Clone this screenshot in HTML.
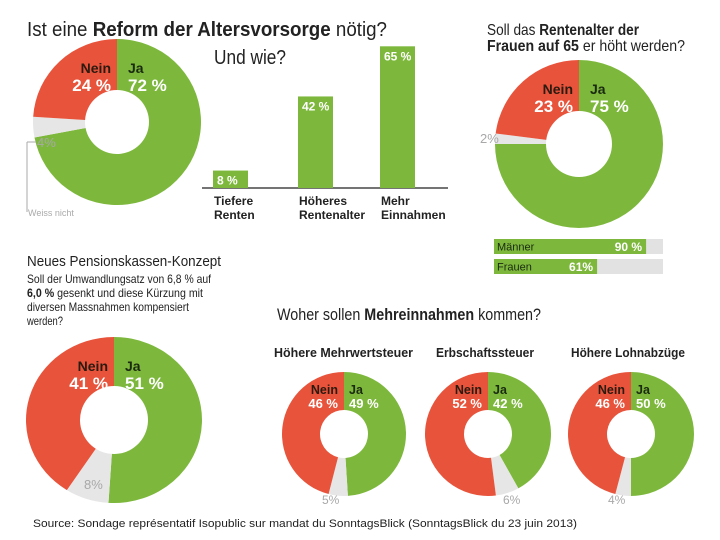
<!DOCTYPE html>
<html><head><meta charset="utf-8">
<style>
html,body{margin:0;padding:0;background:#fff;}
svg{display:block;font-family:"Liberation Sans Narrow","Liberation Sans",sans-serif;}
</style></head>
<body>
<svg id="c" width="720" height="540" viewBox="0 0 720 540" xmlns="http://www.w3.org/2000/svg">
<text x="27" y="36" font-size="20" fill="#222" textLength="360" lengthAdjust="spacingAndGlyphs">Ist eine <tspan font-weight="bold">Reform der Altersvorsorge</tspan> nötig?</text>
<text x="214" y="64" font-size="20" fill="#222" textLength="72" lengthAdjust="spacingAndGlyphs">Und wie?</text>
<text x="487" y="35" font-size="16" fill="#222" textLength="152" lengthAdjust="spacingAndGlyphs">Soll das <tspan font-weight="bold">Rentenalter der</tspan></text>
<text x="487" y="51" font-size="16" fill="#222" textLength="198" lengthAdjust="spacingAndGlyphs"><tspan font-weight="bold">Frauen auf 65</tspan> er höht werden?</text>
<text x="27" y="266" font-size="15" fill="#222" textLength="194" lengthAdjust="spacingAndGlyphs">Neues Pensionskassen-Konzept</text>
<g font-size="12" fill="#222">
<text x="27" y="283" textLength="184" lengthAdjust="spacingAndGlyphs">Soll der Umwandlungsatz von 6,8 % auf</text>
<text x="27" y="297" textLength="176" lengthAdjust="spacingAndGlyphs"><tspan font-weight="bold">6,0 %</tspan> gesenkt und diese Kürzung mit</text>
<text x="27" y="311" textLength="162" lengthAdjust="spacingAndGlyphs">diversen Massnahmen kompensiert</text>
<text x="27" y="325" textLength="36" lengthAdjust="spacingAndGlyphs">werden?</text>
</g>
<text x="277" y="320" font-size="17" fill="#222" textLength="264" lengthAdjust="spacingAndGlyphs">Woher sollen <tspan font-weight="bold">Mehreinnahmen</tspan> kommen?</text>
<g font-size="13" font-weight="bold" fill="#222">
<text x="274" y="357" textLength="139" lengthAdjust="spacingAndGlyphs">Höhere Mehrwertsteuer</text>
<text x="436" y="357" textLength="98" lengthAdjust="spacingAndGlyphs">Erbschaftssteuer</text>
<text x="571" y="357" textLength="114" lengthAdjust="spacingAndGlyphs">Höhere Lohnabzüge</text>
</g>
<g id="donuts"></g>
<g id="bars"></g>
<g id="hbars"></g>
<line x1="27" y1="142" x2="36" y2="142" stroke="#aaa"/>
<line x1="27" y1="142" x2="27" y2="212" stroke="#aaa"/>
<text x="28" y="216" font-size="9" fill="#aaa">Weiss nicht</text>
<text x="33" y="527" font-size="11" fill="#222" textLength="544" lengthAdjust="spacingAndGlyphs" font-family="Liberation Sans, sans-serif">Source: Sondage représentatif Isopublic sur mandat du SonntagsBlick (SonntagsBlick du 23 juin 2013)</text>
</svg>
<script>
const donutNames=["reform","women-age","pension","vat","inheritance","payroll"];
const yesVals=[72,75,51,49,42,50];
const grayVals=[4,2,8,5,6,4];
const noVals=[24,23,41,46,52,46];
const barCats=["Tiefere|Renten","Höheres|Rentenalter","Mehr|Einnahmen"];
const barVals=[8,42,65];
const hbarCats=["Männer","Frauen"];
const hbarVals=[90,61];

const NS="http://www.w3.org/2000/svg";
function mk(tag,attrs,parent){const e=document.createElementNS(NS,tag);for(const k in attrs)e.setAttribute(k,attrs[k]);parent.appendChild(e);return e;}
const geo=[
 {cx:117,cy:122,rx:84,ry:83,ir:32,big:true},
 {cx:579,cy:144,rx:84,ry:84,ir:33,big:true},
 {cx:114,cy:420,rx:88,ry:83,ir:34,big:true},
 {cx:344,cy:434,rx:62,ry:62,ir:24,big:false},
 {cx:488,cy:434,rx:63,ry:62,ir:24,big:false},
 {cx:631,cy:434,rx:63,ry:62,ir:24,big:false}];
const grayLbl=[[37,147],[480,143],[84,489],[322,504],[503,504],[608,504]];
function seg(g,p0,p1){
 const a0=p0/100*2*Math.PI,a1=p1/100*2*Math.PI,large=(p1-p0)>50?1:0;
 const o0=[g.cx+Math.sin(a0)*g.rx,g.cy-Math.cos(a0)*g.ry],o1=[g.cx+Math.sin(a1)*g.rx,g.cy-Math.cos(a1)*g.ry];
 const i0=[g.cx+Math.sin(a0)*g.ir,g.cy-Math.cos(a0)*g.ir],i1=[g.cx+Math.sin(a1)*g.ir,g.cy-Math.cos(a1)*g.ir];
 return `M${o0} A${g.rx},${g.ry} 0 ${large} 1 ${o1} L${i1} A${g.ir},${g.ir} 0 ${large} 0 ${i0} Z`;}
const dg=document.getElementById('donuts');
donutNames.forEach((n,i)=>{
 const g=geo[i];const grp=mk('g',{},dg);
 
 
 const y=yesVals[i],gr=grayVals[i];
 const s1=mk('path',{d:seg(g,0,y),fill:'#7db83d'},grp);
 
 
 const s2=mk('path',{d:seg(g,y,y+gr),fill:'#e6e6e6'},grp);
 
 
 const s3=mk('path',{d:seg(g,y+gr,100),fill:'#e8533b'},grp);
 
 
 const fs1=g.big?14:12.5,fs2=g.big?17:13;
 const ly1=g.cy-g.ry+(g.big?34:22),ly2=ly1+(g.big?18:14);
 const t1=mk('text',{x:g.cx-6,y:ly1,'font-size':fs1,'font-weight':'bold','text-anchor':'end',fill:'#2a1a10'},grp);t1.textContent='Nein';
 
 
 const t2=mk('text',{x:g.cx-6,y:ly2,'font-size':fs2,'font-weight':'bold','text-anchor':'end',fill:'#fff'},grp);t2.textContent=noVals[i]+' %';
 
 
 const t3=mk('text',{x:g.cx+(g.big?11:5),y:ly1,'font-size':fs1,'font-weight':'bold',fill:'#1a2a10'},grp);t3.textContent='Ja';
 
 
 const t4=mk('text',{x:g.cx+(g.big?11:5),y:ly2,'font-size':fs2,'font-weight':'bold',fill:'#fff'},grp);t4.textContent=y+' %';
 
 
 const gp=grayLbl[i];
 const t5=mk('text',{x:gp[0],y:gp[1],'font-size':g.big?13:12,fill:'#a8a8a8'},grp);t5.textContent=gr+'%';
 
 
});
const bg=document.getElementById('bars');
const base=188,ppu=2.18,bx=[213,298,380],bw=35;
const ax=mk('line',{x1:202,y1:base,x2:448,y2:base,stroke:'#222','stroke-width':1.3},bg);


barVals.forEach((v,i)=>{
 const h=v*ppu;
 const r=mk('rect',{x:bx[i],y:base-h,width:bw,height:h,fill:'#7db83d'},bg);
 
 
 const t=mk('text',{x:bx[i]+4,y:base-h+14,'font-size':12,'font-weight':'bold',fill:'#fff'},bg);t.textContent=v+' %';
 
 
 barCats[i].split('|').forEach((ln,j)=>{
  const c=mk('text',{x:bx[i]+1,y:205+j*14,'font-size':12,'font-weight':'bold',fill:'#222'},bg);c.textContent=ln;
  
  
 });
});
const hg=document.getElementById('hbars');
const hx=494,hw=169,hy=[239,259],hh=15;
hbarVals.forEach((v,i)=>{
 const b=mk('rect',{x:hx,y:hy[i],width:hw,height:hh,fill:'#e2e2e2'},hg);
 
 
 const w=v/100*hw;
 const r=mk('rect',{x:hx,y:hy[i],width:w,height:hh,fill:'#7db83d'},hg);
 
 
 const l=mk('text',{x:hx+3,y:hy[i]+11.5,'font-size':11,fill:'#1a2a10'},hg);l.textContent=hbarCats[i];
 
 
 const t=mk('text',{x:hx+w-4,y:hy[i]+12,'font-size':12,'font-weight':'bold',fill:'#fff','text-anchor':'end'},hg);t.textContent=v+(v>=70?' %':'%');
 
 
});
</script>
</body></html>
